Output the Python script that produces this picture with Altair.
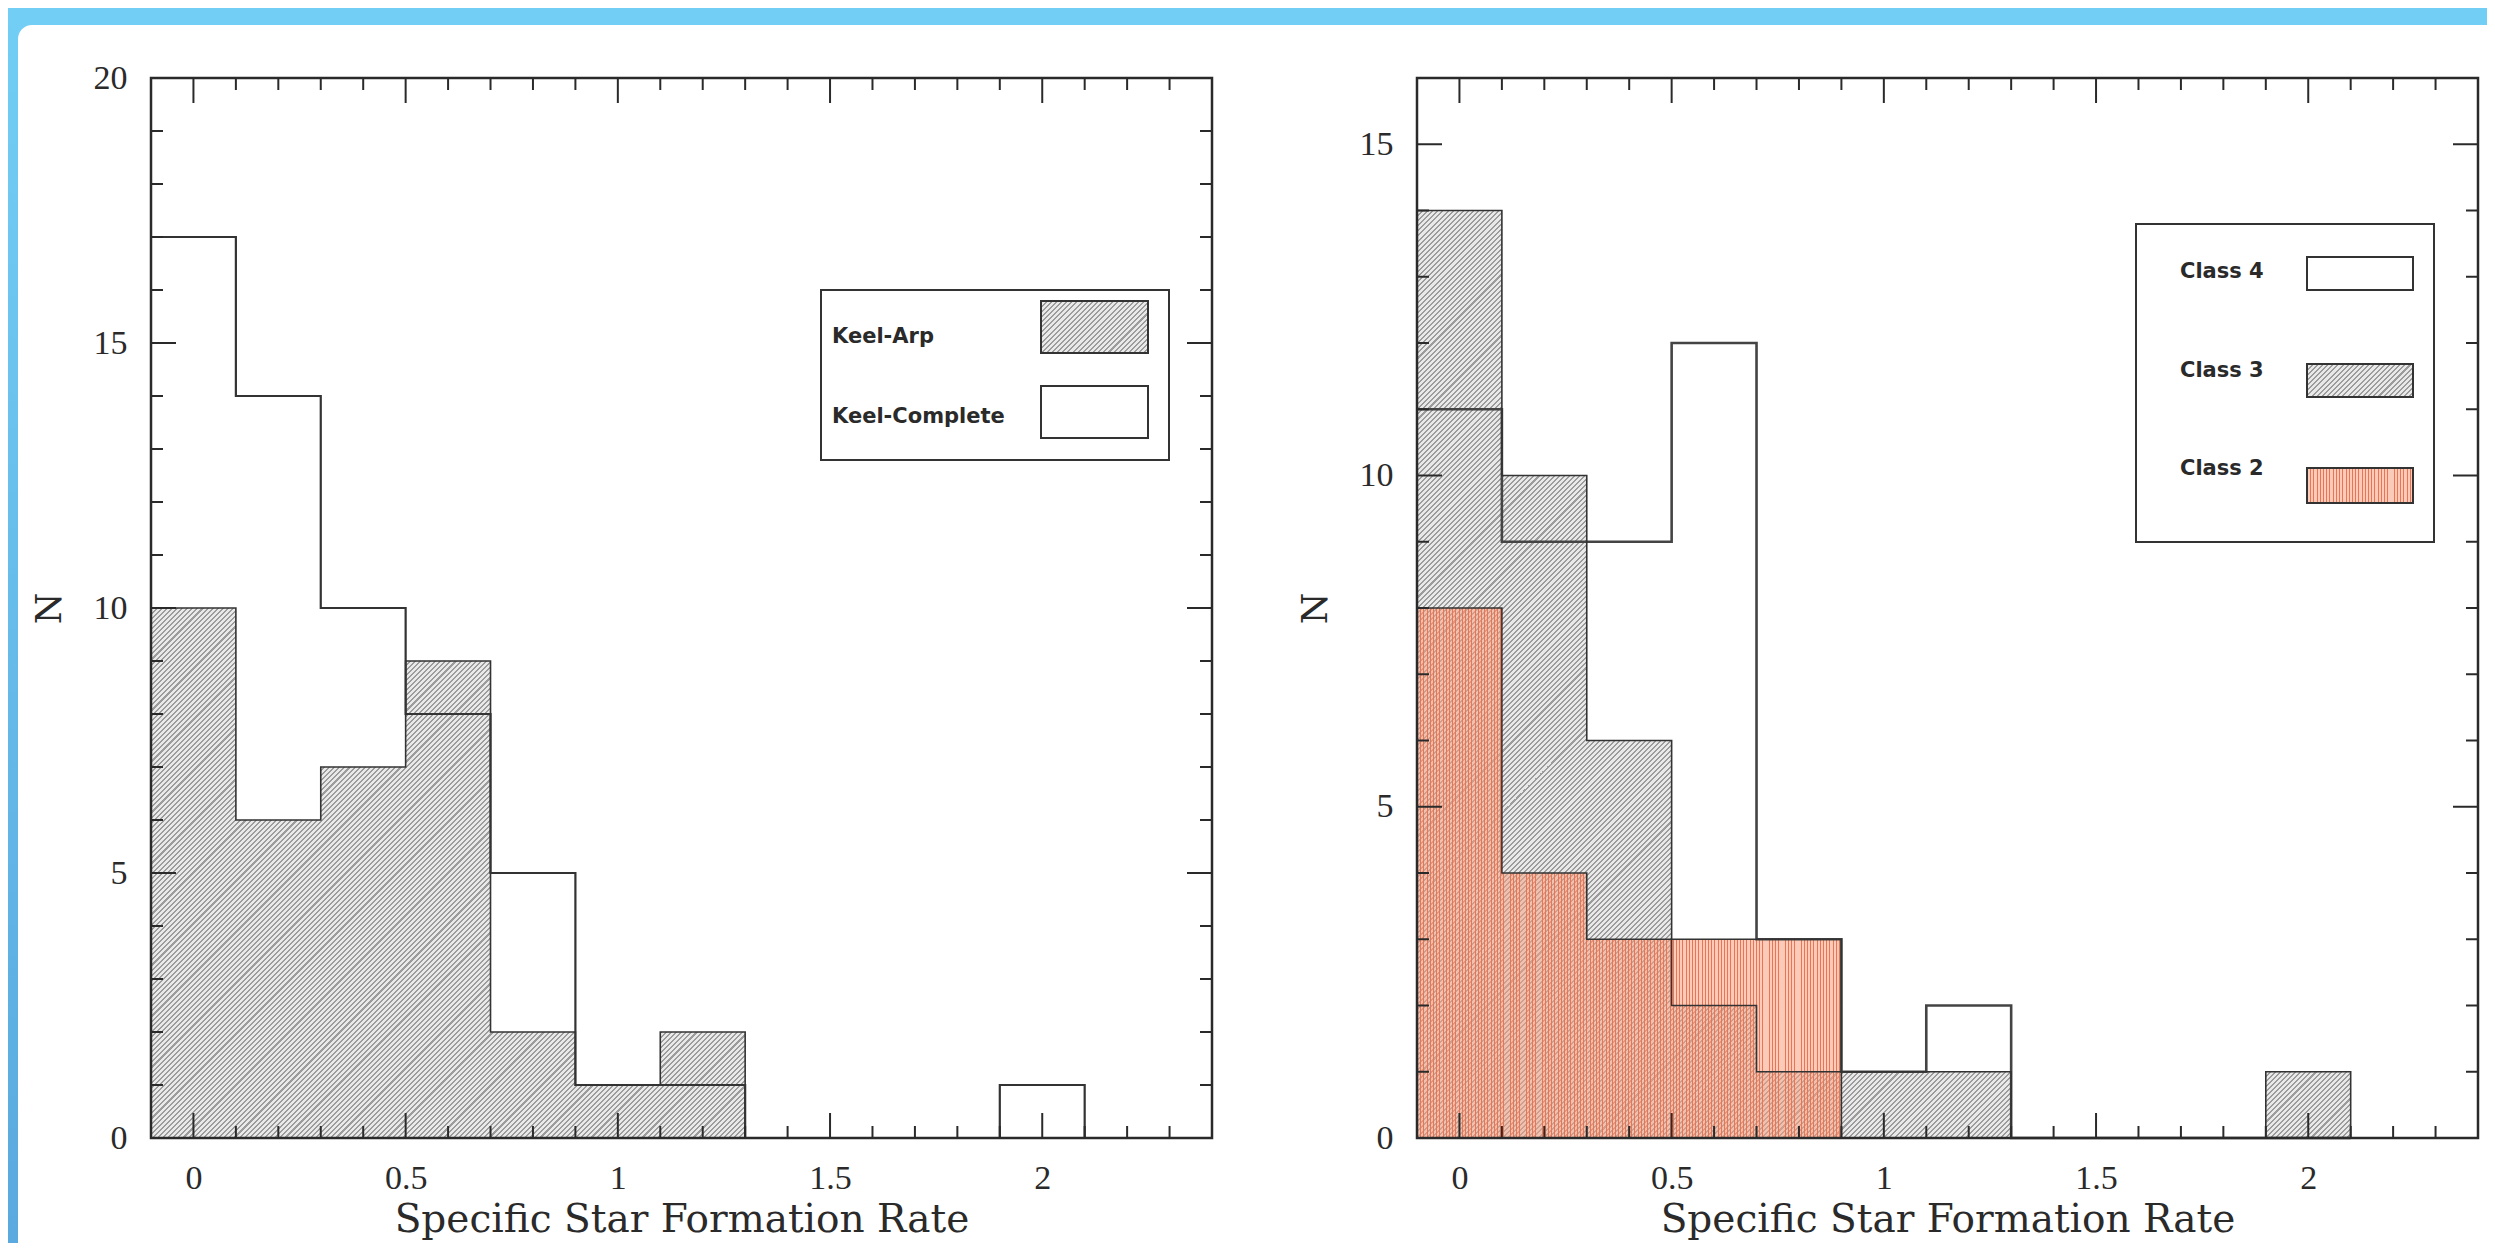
import altair as alt
import pandas as pd

# ---------------- data ----------------
BIN_CENTERS = [0.0, 0.2, 0.4, 0.6, 0.8, 1.0, 1.2, 1.4, 1.6, 1.8, 2.0]
BIN_WIDTH = 0.2
KEEL_COMPLETE = [17, 14, 10, 8, 5, 1, 1, 0, 0, 0, 1]
KEEL_ARP = [10, 6, 7, 9, 2, 1, 2, 0, 0, 0, 0]
CLASS_4 = [11, 9, 9, 12, 3, 1, 2, 0, 0, 0, 0]
CLASS_3 = [14, 10, 6, 2, 1, 1, 1, 0, 0, 0, 1]
CLASS_2 = [8, 4, 3, 3, 3, 0, 0, 0, 0, 0, 0]

X_DOMAIN = [-0.1, 2.4]
Y_DOMAIN_LEFT = [0, 20]
Y_DOMAIN_RIGHT = [0, 16]
X_MAJOR = [0, 0.5, 1, 1.5, 2]
X_MINOR = [0.1, 0.2, 0.3, 0.4, 0.6, 0.7, 0.8, 0.9, 1.1, 1.2, 1.3, 1.4,
           1.6, 1.7, 1.8, 1.9, 2.1, 2.2, 2.3]
Y_LEFT_MAJOR = [0, 5, 10, 15, 20]
Y_LEFT_MINOR = [1, 2, 3, 4, 6, 7, 8, 9, 11, 12, 13, 14, 16, 17, 18, 19]
Y_RIGHT_MAJOR = [0, 5, 10, 15]
Y_RIGHT_MINOR = [1, 2, 3, 4, 6, 7, 8, 9, 11, 12, 13, 14]

X_TITLE = "Specific Star Formation Rate"
Y_TITLE = "N"
LEFT_LEGEND = ["Keel-Arp", "Keel-Complete"]
RIGHT_LEGEND = ["Class 4", "Class 3", "Class 2"]

# ---------------- style ----------------
W, H = 1061, 1060
INK = "#2a2a2a"
LABEL_FONT = "Liberation Serif"
TITLE_FONT = "DejaVu Serif"
LEG_FONT = "DejaVu Sans"
BLUE_TOP = "#72cef4"
BLUE_BOTTOM = "#5aa9df"


def steps(counts):
    xs = [c - BIN_WIDTH / 2 for c in BIN_CENTERS] + [BIN_CENTERS[-1] + BIN_WIDTH / 2]
    ys = list(counts) + [0]
    return pd.DataFrame({"x": xs, "n": ys})


def diag_hatch(w, h, period=3.6, frac=0.4, dark="#9c9c9c", light="#e9e9e9"):
    s = (w + h) / (w * w + h * h)
    a, b = s * w, s * h
    n = max(1, int(round((w + h) / (period * 2 ** 0.5))))
    stops = []
    for i in range(n):
        o0, o1, o2 = round(i / n, 6), round((i + frac) / n, 6), round((i + 1) / n, 6)
        stops += [{"offset": o0, "color": dark}, {"offset": o1, "color": dark},
                  {"offset": o1, "color": light}, {"offset": o2, "color": light}]
    return {"gradient": "linear", "x1": 0, "y1": 0, "x2": a, "y2": b, "stops": stops}


def vert_stripes(w, period=3.2, frac=0.3, dark="#ee7352", light="rgba(248,160,128,0.55)"):
    n = max(1, int(round(w / period)))
    stops = []
    for i in range(n):
        o0, o1, o2 = round(i / n, 6), round((i + frac) / n, 6), round((i + 1) / n, 6)
        stops += [{"offset": o0, "color": dark}, {"offset": o1, "color": dark},
                  {"offset": o1, "color": light}, {"offset": o2, "color": light}]
    return {"gradient": "linear", "x1": 0, "y1": 0, "x2": 1, "y2": 0, "stops": stops}


XS = alt.Scale(domain=X_DOMAIN, nice=False, zero=False)
X_AXIS = alt.Axis(values=X_MAJOR, format="~g", title=X_TITLE, ticks=False, domain=False,
                  grid=False, labelPadding=23, titlePadding=5, labelFont=LABEL_FONT,
                  labelFontSize=34, titleFont=TITLE_FONT, titleFontSize=39,
                  titleFontWeight="normal", labelColor=INK, titleColor=INK, labelFlush=False)


def y_axis(vals):
    return alt.Axis(values=vals, format="~g", title=Y_TITLE, ticks=False, domain=False,
                    grid=False, labelPadding=24, labelFont=LABEL_FONT, labelFontSize=34,
                    titleFont=TITLE_FONT, titleFontSize=36, titleFontWeight="normal",
                    labelColor=INK, titleColor=INK, titleX=-102, titleY=H / 2,
                    titleBaseline="middle", titleAngle=270, labelFlush=False)


def px_x(d):
    return alt.X(d, scale=XS, axis=X_AXIS)


def one():
    return pd.DataFrame({"k": [0]})


def rect_px(x, x2, y, y2, **mk):
    return alt.Chart(one()).mark_rect(**mk).encode(
        x=alt.value(x), x2=alt.value(x2), y=alt.value(y), y2=alt.value(y2))


def text_px(label, x, y):
    return alt.Chart(pd.DataFrame({"label": [label]})).mark_text(
        align="left", baseline="middle", font=LEG_FONT, fontWeight="bold",
        fontSize=21, color=INK).encode(x=alt.value(x), y=alt.value(y), text="label:N")


def tick_layers(ys, yaxis, ymaj, ymin, ymax):
    layers = []
    xd = X_DOMAIN
    for vals, L in ((X_MAJOR, 25), (X_MINOR, 12)):
        v = [t for t in vals if xd[0] < t < xd[1]]
        base = alt.Chart(pd.DataFrame({"v": v})).mark_rule(color=INK, strokeWidth=2)
        layers.append(base.encode(x=px_x("v:Q"), y=alt.value(H), y2=alt.value(H - L)))
        layers.append(base.encode(x=px_x("v:Q"), y=alt.value(0), y2=alt.value(L)))
    for vals, L in ((ymaj, 25), (ymin, 12)):
        v = [t for t in vals if 0 < t < ymax]
        base = alt.Chart(pd.DataFrame({"v": v})).mark_rule(color=INK, strokeWidth=2)
        yy = alt.Y("v:Q", scale=ys, axis=yaxis)
        layers.append(base.encode(y=yy, x=alt.value(0), x2=alt.value(L)))
        layers.append(base.encode(y=yy, x=alt.value(W), x2=alt.value(W - L)))
    return layers


def hist_area(counts, ys, yaxis, fill):
    return alt.Chart(steps(counts)).mark_area(interpolate="step-after", fill=fill).encode(
        x=px_x("x:Q"), y=alt.Y("n:Q", scale=ys, axis=yaxis))


def hist_line(counts, ys, yaxis, color, width):
    return alt.Chart(steps(counts)).mark_line(
        interpolate="step-after", color=color, strokeWidth=width).encode(
        x=px_x("x:Q"), y=alt.Y("n:Q", scale=ys, axis=yaxis))


def bbox(counts, ymax):
    w = (BIN_WIDTH * len(BIN_CENTERS)) / (X_DOMAIN[1] - X_DOMAIN[0]) * W
    h = max(counts) / ymax * H
    return w, h


# ---------------- left panel ----------------
YS_L = alt.Scale(domain=Y_DOMAIN_LEFT, nice=False, zero=True)
YA_L = y_axis(Y_LEFT_MAJOR)
wA, hA = bbox(KEEL_ARP, Y_DOMAIN_LEFT[1])

left_layers = [
    # slide background decoration (blue frame with rounded white panel)
    rect_px(-143, 2336, -70, -53, fill=BLUE_TOP),
    rect_px(-143, -133, -70, 1165,
            fill={"gradient": "linear", "x1": 0, "y1": 0, "x2": 0, "y2": 1,
                  "stops": [{"offset": 0, "color": BLUE_TOP},
                            {"offset": 1, "color": BLUE_BOTTOM}]}),
    rect_px(-133, -113, -53, -33, fill=BLUE_TOP),
    rect_px(-133, -83, -53, -3, fill="white", cornerRadius=14),
    hist_area(KEEL_ARP, YS_L, YA_L, diag_hatch(wA, hA)),
    hist_line(KEEL_ARP, YS_L, YA_L, "#333333", 1.6),
    hist_line(KEEL_COMPLETE, YS_L, YA_L, "#333333", 2.2),
    # legend
    rect_px(670, 1018, 212, 382, fill="white", stroke="#333333", strokeWidth=2),
    rect_px(890, 997, 223, 275, fill=diag_hatch(107, 52), stroke="#333333", strokeWidth=2),
    rect_px(890, 997, 308, 360, fill="white", stroke="#333333", strokeWidth=2),
    text_px(LEFT_LEGEND[0], 681, 259),
    text_px(LEFT_LEGEND[1], 681, 339),
]
left_layers += tick_layers(YS_L, YA_L, Y_LEFT_MAJOR, Y_LEFT_MINOR, Y_DOMAIN_LEFT[1])
left_layers.append(rect_px(0, W, 0, H, fill="white", fillOpacity=0, stroke=INK, strokeWidth=2.5))
left = alt.layer(*left_layers).properties(width=W, height=H)

# ---------------- right panel ----------------
YS_R = alt.Scale(domain=Y_DOMAIN_RIGHT, nice=False, zero=True)
YA_R = y_axis(Y_RIGHT_MAJOR)
w3, h3 = bbox(CLASS_3, Y_DOMAIN_RIGHT[1])
w2, h2 = bbox(CLASS_2, Y_DOMAIN_RIGHT[1])

right_layers = [
    hist_area(CLASS_3, YS_R, YA_R, diag_hatch(w3, h3)),
    hist_area(CLASS_2, YS_R, YA_R, vert_stripes(w2)),
    hist_line(CLASS_4, YS_R, YA_R, "#444444", 2.6),
    hist_line(CLASS_3, YS_R, YA_R, "#333333", 1.6),
    hist_line(CLASS_2, YS_R, YA_R, "#333333", 1.6),
    # legend
    rect_px(719, 1017, 146, 464, fill="white", stroke="#333333", strokeWidth=2),
    rect_px(890, 996, 179, 212, fill="white", stroke="#333333", strokeWidth=2),
    rect_px(890, 996, 286, 319, fill=diag_hatch(106, 33), stroke="#333333", strokeWidth=2),
    rect_px(890, 996, 390, 425, fill=vert_stripes(106), stroke="#333333", strokeWidth=2),
    text_px(RIGHT_LEGEND[0], 763, 194),
    text_px(RIGHT_LEGEND[1], 763, 293),
    text_px(RIGHT_LEGEND[2], 763, 391),
]
right_layers += tick_layers(YS_R, YA_R, Y_RIGHT_MAJOR, Y_RIGHT_MINOR, Y_DOMAIN_RIGHT[1])
right_layers.append(rect_px(0, W, 0, H, fill="white", fillOpacity=0, stroke=INK, strokeWidth=2.5))
right = alt.layer(*right_layers).properties(width=W, height=H)

chart = alt.hconcat(left, right, spacing=205, bounds="flush").configure(
    background="white", padding=0
).configure_view(stroke=None)

chart.save("out.html", embed_options={"renderer": "svg", "actions": False})
